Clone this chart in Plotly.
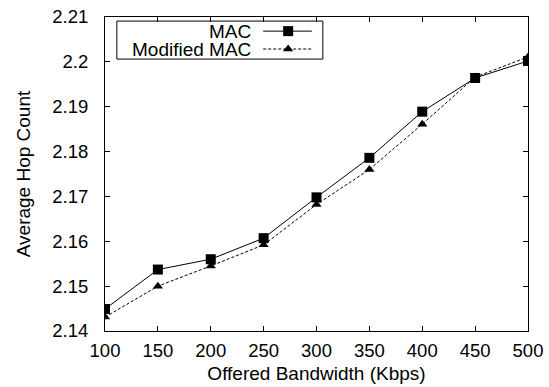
import plotly.graph_objects as go

# Offered bandwidth (Kbps) and average hop count per scheme
bandwidth = [100, 150, 200, 250, 300, 350, 400, 450, 500]
mac_hops = [2.1449, 2.1537, 2.1560, 2.1607, 2.1698, 2.1786, 2.1889, 2.1964, 2.2002]
modified_hops = [2.1431, 2.1500, 2.1545, 2.1592, 2.1682, 2.1760, 2.1861, 2.1966, 2.2011]

series_names = ["MAC", "Modified MAC"]
x_ticks = [100, 150, 200, 250, 300, 350, 400, 450, 500]
y_ticks = [2.14, 2.15, 2.16, 2.17, 2.18, 2.19, 2.20, 2.21]
y_tick_text = ["2.14", "2.15", "2.16", "2.17", "2.18", "2.19", "2.2", "2.21"]

FONT = "Liberation Sans, Arial, Helvetica, sans-serif"
TEXT_SIZE = 19
TICK_SIZE = 18.5

fig = go.Figure()

fig.add_trace(go.Scatter(
    x=bandwidth, y=mac_hops, mode="lines+markers", name=series_names[0],
    line=dict(color="black", width=1),
    marker=dict(symbol="square", size=10, color="black"),
    showlegend=False,
))
fig.add_trace(go.Scatter(
    x=bandwidth, y=modified_hops, mode="lines+markers", name=series_names[1],
    line=dict(color="black", width=1, dash="3px,2px"),
    marker=dict(symbol="triangle-up", size=9, color="black"),
    showlegend=False,
))

# gnuplot-style key: label on the left, line sample on the right
key_x0, key_x1 = 0.028, 0.515
key_y0, key_y1 = 0.866, 0.987
sample_x0, sample_x1, sample_mid = 0.374, 0.489, 0.433
rows_y = [0.955, 0.898]

shapes = [dict(type="rect", xref="paper", yref="paper", layer="below",
               x0=key_x0, x1=key_x1, y0=key_y0, y1=key_y1,
               line=dict(color="black", width=1), fillcolor="white")]
for ry, dash in zip(rows_y, ["solid", "3px,2px"]):
    shapes.append(dict(type="line", xref="paper", yref="paper", layer="below",
                       x0=sample_x0, x1=sample_x1, y0=ry, y1=ry,
                       line=dict(color="black", width=1, dash=dash)))

annotations = [dict(x=0.348, y=ry, xref="paper", yref="paper", text=name,
                    showarrow=False, xanchor="right", yanchor="middle",
                    borderpad=0,
                    font=dict(family=FONT, size=TEXT_SIZE, color="black"))
               for name, ry in zip(series_names, rows_y)]

# key markers on an overlay axis that spans the plot area in [0, 1]
fig.add_trace(go.Scatter(
    x=[sample_mid], y=[rows_y[0]], xaxis="x2", yaxis="y2", mode="markers",
    marker=dict(symbol="square", size=10, color="black"), showlegend=False,
    hoverinfo="skip",
))
fig.add_trace(go.Scatter(
    x=[sample_mid], y=[rows_y[1]], xaxis="x2", yaxis="y2", mode="markers",
    marker=dict(symbol="triangle-up", size=9, color="black"), showlegend=False,
    hoverinfo="skip",
))

axis_common = dict(
    showline=True, linecolor="black", linewidth=1, mirror="ticks",
    ticks="inside", ticklen=5, tickcolor="black", tickwidth=1,
    showgrid=False, zeroline=False, automargin=False,
    tickfont=dict(family=FONT, size=TICK_SIZE, color="black"),
)

fig.update_layout(
    width=549, height=387,
    margin=dict(l=105, r=21, t=17, b=56),
    paper_bgcolor="white", plot_bgcolor="white",
    font=dict(family=FONT, size=TEXT_SIZE, color="black"),
    xaxis=dict(range=[100, 500], tickvals=x_ticks, ticklabelstandoff=3,
               title=dict(text="Offered Bandwidth (Kbps)", standoff=6,
                          font=dict(family=FONT, size=TEXT_SIZE)),
               **axis_common),
    yaxis=dict(range=[2.14, 2.21], tickvals=y_ticks, ticktext=y_tick_text,
               ticklabelstandoff=12,
               title=dict(text="Average Hop Count", standoff=16,
                          font=dict(family=FONT, size=TEXT_SIZE)),
               **axis_common),
    xaxis2=dict(overlaying="x", range=[0, 1], visible=False, fixedrange=True),
    yaxis2=dict(overlaying="y", range=[0, 1], visible=False, fixedrange=True),
    shapes=shapes,
    annotations=annotations,
)

fig.write_html("out.html")
